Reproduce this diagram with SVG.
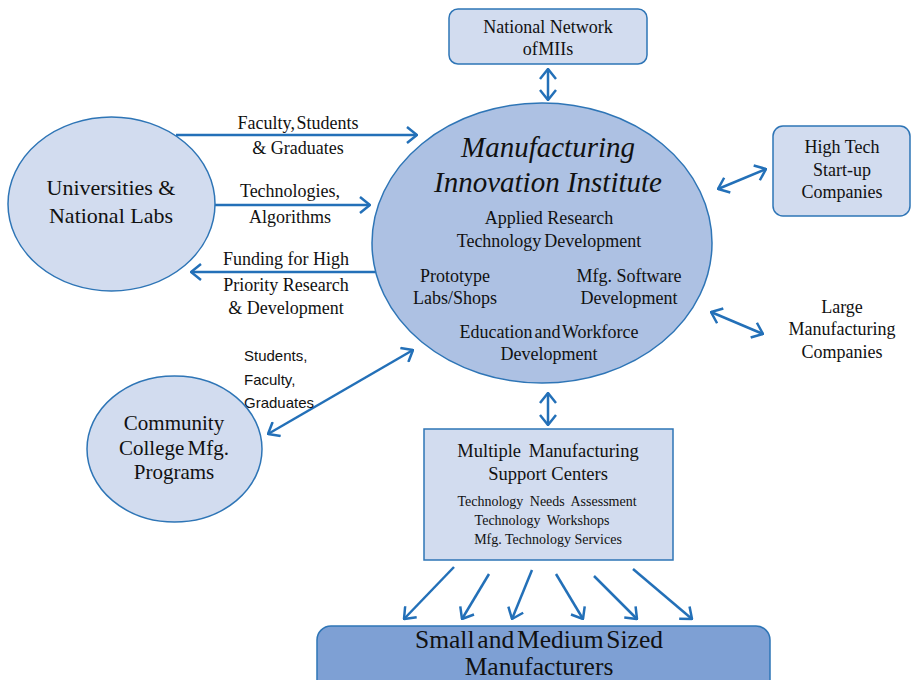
<svg xmlns="http://www.w3.org/2000/svg" width="911" height="680" viewBox="0 0 911 680">
  <style>
    .serif { font-family: 'Liberation Serif', 'Times New Roman', Times, 'DejaVu Serif', serif; fill: #111; text-anchor: middle; }
    .sans { font-family: 'Liberation Sans', Arial, sans-serif; fill: #111; }
    .light { fill: #d2dcef; stroke: #2e75b6; stroke-width: 1.5; }
    .core { fill: #adc1e3; stroke: #2e75b6; stroke-width: 1.5; }
    .dark { fill: #7ea0d4; stroke: #2e75b6; stroke-width: 1.5; }
    .conn line { stroke: #2370b8; stroke-width: 2.5; fill: none; }
    .one { marker-end: url(#head); }
    .two { marker-start: url(#head); marker-end: url(#head); }
  </style>
  <defs>
    <marker id="head" markerUnits="userSpaceOnUse" viewBox="0 0 12 18" markerWidth="12" markerHeight="18" refX="11" refY="9" orient="auto-start-reverse">
      <path d="M1,1 L11,9 L1,17" fill="none" stroke="#2370b8" stroke-width="2.5"/>
    </marker>
  </defs>
  <rect width="911" height="680" fill="#ffffff"/>

  <!-- connectors -->
  <g class="conn">
    <line class="one" x1="176" y1="135" x2="417" y2="135"/>
    <line class="one" x1="215" y1="205" x2="370" y2="205"/>
    <line class="one" x1="376" y1="272" x2="191" y2="272"/>
    <line class="two" x1="268" y1="434" x2="413" y2="350"/>
    <line class="two" x1="548" y1="69" x2="548" y2="100"/>
    <line class="two" x1="548" y1="393" x2="548" y2="425"/>
    <line class="two" x1="718" y1="189" x2="766" y2="169"/>
    <line class="two" x1="711" y1="312" x2="763" y2="334"/>
    <line class="one" x1="454" y1="567" x2="404" y2="619"/>
    <line class="one" x1="489" y1="574" x2="462" y2="619"/>
    <line class="one" x1="532" y1="570" x2="512" y2="619"/>
    <line class="one" x1="556" y1="574" x2="583" y2="619"/>
    <line class="one" x1="594" y1="576" x2="637" y2="619"/>
    <line class="one" x1="633" y1="569" x2="692" y2="619"/>
  </g>

  <!-- connector labels -->
  <g id="labels" class="serif" font-size="18">
    <text x="298" y="129" word-spacing="-3">Faculty, Students</text>
    <text x="298" y="154">&amp; Graduates</text>
    <text x="290" y="197">Technologies,</text>
    <text x="290" y="223">Algorithms</text>
    <text x="286" y="265">Funding for High</text>
    <text x="286" y="291">Priority Research</text>
    <text x="286" y="314">&amp; Development</text>
  </g>
  <g id="cc-label" class="sans" font-size="15">
    <text x="244" y="361">Students,</text>
    <text x="244" y="385">Faculty,</text>
    <text x="244" y="408">Graduates</text>
  </g>

  <!-- central institute -->
  <g id="institute">
    <ellipse class="core" cx="542" cy="243" rx="170" ry="140"/>
    <g class="serif">
      <text x="548" y="157" font-size="29" font-style="italic">Manufacturing</text>
      <text x="548" y="192" font-size="29" font-style="italic">Innovation Institute</text>
      <text x="549" y="224" font-size="18">Applied Research</text>
      <text x="549" y="247" font-size="18" word-spacing="-1.5">Technology Development</text>
      <text x="455" y="282" font-size="18">Prototype</text>
      <text x="455" y="304" font-size="18">Labs/Shops</text>
      <text x="629" y="282" font-size="18">Mfg. Software</text>
      <text x="629" y="304" font-size="18">Development</text>
      <text x="549" y="338" font-size="18" word-spacing="-2.5">Education and Workforce</text>
      <text x="549" y="360" font-size="18">Development</text>
    </g>
  </g>

  <g id="universities">
    <ellipse class="light" cx="111.5" cy="204" rx="103.5" ry="87"/>
    <text class="serif" x="111" y="195" font-size="22">Universities &amp;</text>
    <text class="serif" x="111" y="223" font-size="22">National Labs</text>
  </g>

  <g id="community">
    <ellipse class="light" cx="174.5" cy="449" rx="87.5" ry="73"/>
    <text class="serif" x="174" y="430" font-size="21">Community</text>
    <text class="serif" x="174" y="455" font-size="21" word-spacing="-2">College Mfg.</text>
    <text class="serif" x="174" y="479" font-size="21">Programs</text>
  </g>

  <g id="network">
    <rect class="light" x="449" y="9" width="198" height="55" rx="9"/>
    <text class="serif" x="548" y="33" font-size="18">National Network</text>
    <text class="serif" x="548" y="55" font-size="18" word-spacing="-4">of MIIs</text>
  </g>

  <g id="startups">
    <rect class="light" x="773" y="126" width="137" height="90" rx="10"/>
    <text class="serif" x="842" y="153" font-size="18">High Tech</text>
    <text class="serif" x="842" y="176" font-size="18">Start-up</text>
    <text class="serif" x="842" y="198" font-size="18">Companies</text>
  </g>

  <g id="large">
    <text class="serif" x="842" y="313" font-size="18">Large</text>
    <text class="serif" x="842" y="335" font-size="18">Manufacturing</text>
    <text class="serif" x="842" y="358" font-size="18">Companies</text>
  </g>

  <g id="support">
    <rect class="light" x="424" y="429" width="249" height="131"/>
    <text class="serif" x="548" y="457" font-size="18.5" word-spacing="3">Multiple Manufacturing</text>
    <text class="serif" x="548" y="480" font-size="18.5">Support Centers</text>
    <text class="serif" x="547" y="506" font-size="14" word-spacing="3">Technology Needs Assessment</text>
    <text class="serif" x="542" y="525" font-size="14" word-spacing="3">Technology Workshops</text>
    <text class="serif" x="548" y="544" font-size="14">Mfg. Technology Services</text>
  </g>

  <g id="smes">
    <rect class="dark" x="317" y="626" width="453" height="72" rx="14"/>
    <text class="serif" x="539" y="648" font-size="25.5" word-spacing="-3.5">Small and Medium Sized</text>
    <text class="serif" x="539" y="675" font-size="25.5">Manufacturers</text>
  </g>
</svg>
